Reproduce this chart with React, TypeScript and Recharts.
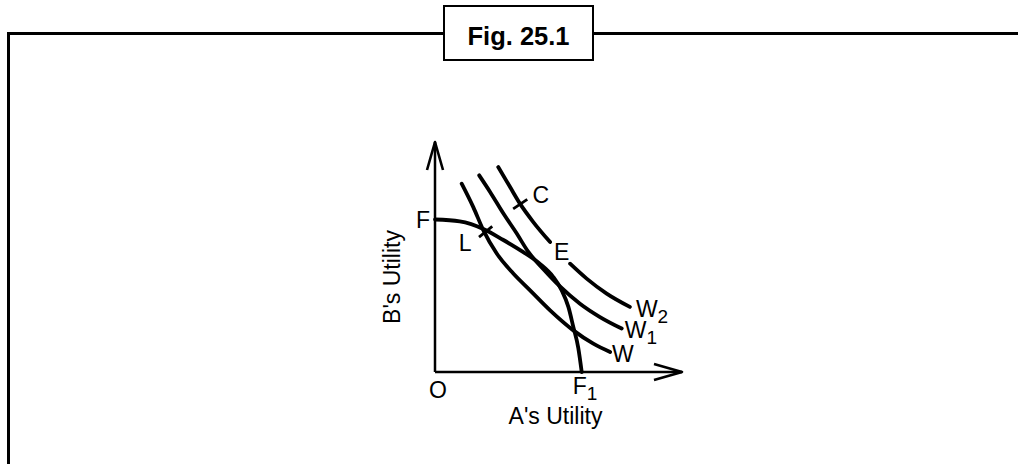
import { LineChart, Line, XAxis, YAxis, ReferenceDot } from 'recharts'

// Utility-possibility frontier F–F1 (A's utility on x, B's utility on y)
const frontier = [
  { x: 0, y: 6.63 },
  { x: 1.0, y: 6.55 },
  { x: 2.0, y: 6.2 },
  { x: 2.75, y: 5.75 },
  { x: 3.56, y: 5.22 },
  { x: 4.25, y: 4.7 },
  { x: 4.79, y: 4.13 },
  { x: 5.13, y: 3.55 },
  { x: 5.4, y: 2.83 },
  { x: 5.6, y: 1.96 },
  { x: 5.8, y: 1.05 },
  { x: 5.94, y: 0 },
]

// Social welfare contours
const welfareW = [
  { x: 1.08, y: 8.19 },
  { x: 1.55, y: 7.17 },
  { x: 1.96, y: 6.16 },
  { x: 2.5, y: 5.15 },
  { x: 3.17, y: 4.28 },
  { x: 3.85, y: 3.55 },
  { x: 4.66, y: 2.68 },
  { x: 5.6, y: 1.81 },
  { x: 6.41, y: 1.23 },
  { x: 7.09, y: 0.87 },
]

const welfareW1 = [
  { x: 1.79, y: 8.55 },
  { x: 2.23, y: 7.83 },
  { x: 2.77, y: 6.89 },
  { x: 3.31, y: 6.02 },
  { x: 3.78, y: 5.22 },
  { x: 4.39, y: 4.47 },
  { x: 5.06, y: 3.72 },
  { x: 5.87, y: 2.97 },
  { x: 6.68, y: 2.39 },
  { x: 7.56, y: 1.89 },
]

// W2 is broken where the label E sits
const welfareW2 = [
  { x: 2.56, y: 8.91 },
  { x: 3.04, y: 8.04 },
  { x: 3.44, y: 7.32 },
  { x: 3.98, y: 6.52 },
  { x: 4.66, y: 5.65 },
  { x: 5.05, y: null },
  { x: 5.47, y: 4.71 },
  { x: 6.14, y: 4.06 },
  { x: 6.95, y: 3.41 },
  { x: 7.89, y: 2.83 },
]

const pointL = { x: 2.05, y: 6.1 }
const pointC = { x: 3.45, y: 7.3 }
const pointE = { x: 4.4, y: 4.55 }

const FONT = '"Liberation Sans", Arial, Helvetica, sans-serif'

const Tag = ({ cx, cy, text, sub, dx = 0, dy = 0, anchor = 'start' }: any) => (
  <text x={cx + dx} y={cy + dy} textAnchor={anchor} fontSize={23} fontFamily={FONT} fill="#000">
    {text}
    {sub && (
      <tspan dy={6} fontSize={19}>
        {sub}
      </tspan>
    )}
  </text>
)

// short cross stroke marking a point on a curve
const Nick = ({ cx, cy, angle }: any) => {
  const len = 8.5
  const r = (angle * Math.PI) / 180
  return (
    <line
      x1={cx - len * Math.cos(r)}
      y1={cy - len * Math.sin(r)}
      x2={cx + len * Math.cos(r)}
      y2={cy + len * Math.sin(r)}
      stroke="#000"
      strokeWidth={2.8}
    />
  )
}

const curve = {
  type: 'monotone' as const,
  dataKey: 'y',
  stroke: '#000',
  strokeWidth: 3.8,
  strokeLinecap: 'round' as const,
  dot: false,
  activeDot: false,
  isAnimationActive: false,
}

export default function App() {
  return (
    <div style={{ position: 'absolute', left: 0, top: 0, width: 1018, height: 464, background: '#fff' }}>
      {/* frame + caption box */}
      <svg width={1018} height={464} style={{ position: 'absolute', left: 0, top: 0 }}>
        <defs>
          <marker
            id="axisArrow"
            markerUnits="userSpaceOnUse"
            markerWidth={34}
            markerHeight={22}
            refX={30}
            refY={10}
            orient="auto-start-reverse"
          >
            <path d="M2,2 L30,10 L2,18" fill="none" stroke="#000" strokeWidth={2.6} strokeLinejoin="round" />
          </marker>
        </defs>
        <line x1={7} y1={33.5} x2={1018} y2={33.5} stroke="#000" strokeWidth={3} />
        <line x1={8.5} y1={32} x2={8.5} y2={464} stroke="#000" strokeWidth={3} />
        <rect x={444} y={6} width={149} height={54} fill="#fff" stroke="#000" strokeWidth={2} />
        <text x={518.5} y={45} textAnchor="middle" fontSize={25.5} fontWeight="bold" fontFamily={FONT}>
          Fig. 25.1
        </text>
      </svg>

      <div style={{ position: 'absolute', left: 0, top: 0 }}>
        <LineChart width={1018} height={464} margin={{ top: 142, right: 336, bottom: 52, left: 375 }}>
          <XAxis
            type="number"
            dataKey="x"
            domain={[0, 10]}
            height={40}
            tick={false}
            tickLine={false}
            axisLine={{ stroke: '#000', strokeWidth: 2.5, markerEnd: 'url(#axisArrow)' }}
            label={{
              content: ({ viewBox }: any) => (
                <text
                  x={viewBox.x + viewBox.width / 2 - 3}
                  y={viewBox.y + 52}
                  textAnchor="middle"
                  fontSize={23}
                  fontFamily={FONT}
                  fill="#000"
                >
                  A's Utility
                </text>
              ),
            }}
          />
          <YAxis
            type="number"
            dataKey="y"
            domain={[0, 10]}
            width={60}
            tick={false}
            tickLine={false}
            axisLine={{ stroke: '#000', strokeWidth: 2.5, markerStart: 'url(#axisArrow)' }}
            label={{
              content: () => (
                <text
                  x={400}
                  y={277}
                  transform="rotate(-90, 400, 277)"
                  textAnchor="middle"
                  fontSize={23}
                  fontFamily={FONT}
                  fill="#000"
                >
                  B's Utility
                </text>
              ),
            }}
          />

          <Line {...curve} data={frontier} name="Frontier" />
          <Line {...curve} data={welfareW} name="W" />
          <Line {...curve} data={welfareW1} name="W1" />
          <Line {...curve} data={welfareW2} name="W2" />

          {/* marked points */}
          <ReferenceDot x={pointL.x} y={pointL.y} r={0} shape={(p: any) => <Nick {...p} angle={-39} />} />
          <ReferenceDot x={pointC.x} y={pointC.y} r={0} shape={(p: any) => <Nick {...p} angle={-34} />} />

          {/* labels */}
          <ReferenceDot x={0} y={0} r={0} shape={(p: any) => <Tag {...p} text="O" anchor="middle" dx={3} dy={25.5} />} />
          <ReferenceDot x={frontier[0].x} y={frontier[0].y} r={0} shape={(p: any) => <Tag {...p} text="F" anchor="end" dx={-5} dy={8.5} />} />
          <ReferenceDot x={5.94} y={0} r={0} shape={(p: any) => <Tag {...p} text="F" sub="1" dx={-9} dy={22} />} />
          <ReferenceDot x={pointL.x} y={pointL.y} r={0} shape={(p: any) => <Tag {...p} text="L" anchor="middle" dx={-20.5} dy={19.5} />} />
          <ReferenceDot x={pointC.x} y={pointC.y} r={0} shape={(p: any) => <Tag {...p} text="C" anchor="middle" dx={20.5} dy={-1.5} />} />
          <ReferenceDot x={pointE.x} y={pointE.y} r={0} shape={(p: any) => <Tag {...p} text="E" anchor="middle" dx={18} dy={-7.5} />} />
          <ReferenceDot x={7.09} y={0.87} r={0} shape={(p: any) => <Tag {...p} text="W" dx={2} dy={10.5} />} />
          <ReferenceDot x={7.56} y={1.89} r={0} shape={(p: any) => <Tag {...p} text="W" sub="1" dx={3} dy={9.5} />} />
          <ReferenceDot x={7.89} y={2.83} r={0} shape={(p: any) => <Tag {...p} text="W" sub="2" dx={6} dy={10} />} />
        </LineChart>
      </div>
    </div>
  )
}
